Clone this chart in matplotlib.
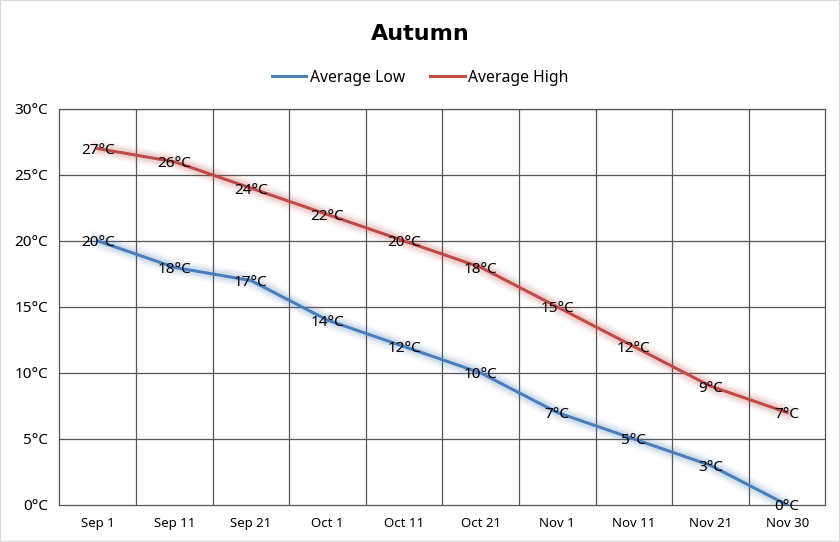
import matplotlib
matplotlib.use('Agg')
import matplotlib.pyplot as plt
import matplotlib.patheffects as pe
from matplotlib.lines import Line2D
from matplotlib.ticker import FuncFormatter, MultipleLocator

plt.rcParams['font.family'] = ['Noto Sans', 'DejaVu Sans']

dates = ["Sep 1", "Sep 11", "Sep 21", "Oct 1", "Oct 11", "Oct 21",
         "Nov 1", "Nov 11", "Nov 21", "Nov 30"]
avg_low = [20, 18, 17, 14, 12, 10, 7, 5, 3, 0]
avg_high = [27, 26, 24, 22, 20, 18, 15, 12, 9, 7]

BLUE = '#4a7ebb'
RED = '#be4b48'


def glow(color):
    return [pe.Stroke(linewidth=12, foreground=color, alpha=0.06),
            pe.Stroke(linewidth=9, foreground=color, alpha=0.08),
            pe.Stroke(linewidth=6, foreground=color, alpha=0.12),
            pe.Normal()]


fig = plt.figure(figsize=(8.4, 5.42), dpi=100)
ax = fig.add_axes([0.0708, 0.0683, 0.9119, 0.7307])

x = list(range(len(dates)))
ax.plot(x, avg_low, color=BLUE, linewidth=2.2,
        path_effects=glow(BLUE), zorder=3)
ax.plot(x, avg_high, color=RED, linewidth=2.2,
        path_effects=glow(RED), zorder=3)

for xi, v in zip(x, avg_low):
    ax.text(xi, v - 0.15, f"{v}°C", ha='center', va='center', fontsize=11, zorder=4)
for xi, v in zip(x, avg_high):
    ax.text(xi, v - 0.15, f"{v}°C", ha='center', va='center', fontsize=11, zorder=4)

ax.set_xlim(-0.5, len(dates) - 0.5)
ax.set_ylim(0, 30)
ax.yaxis.set_major_locator(MultipleLocator(5))
ax.yaxis.set_major_formatter(FuncFormatter(lambda v, p: f"{v:.0f}°C"))
ax.set_xticks(x)
ax.set_xticklabels(dates, fontsize=9.5)
ax.tick_params(axis='y', labelsize=11, length=0, pad=8)
ax.tick_params(axis='x', length=0, pad=9)

# grid: horizontal at ticks, vertical at category boundaries
for yv in range(5, 31, 5):
    ax.axhline(yv, color='#555555', linewidth=0.9, zorder=1)
for xb in range(1, len(dates)):
    ax.axvline(xb - 0.5, color='#555555', linewidth=0.9, zorder=1)
for s in ax.spines.values():
    s.set_color('#555555')
    s.set_linewidth(0.9)

fig.text(0.5, 0.938, "Autumn", ha='center', va='center', fontsize=16,
         fontweight='bold', family='DejaVu Sans')

handles = [Line2D([], [], color=BLUE, linewidth=2.2),
           Line2D([], [], color=RED, linewidth=2.2)]
fig.legend(handles, ['Average Low', 'Average High'], loc='center',
           bbox_to_anchor=(0.5, 0.857), ncol=2, frameon=False,
           fontsize=11.3, handlelength=2.2, handletextpad=0.2, columnspacing=1.6)

fig.patches.append(plt.Rectangle((0, 0), 1, 1, transform=fig.transFigure,
                                 fill=False, edgecolor='#d9d9d9', linewidth=1.5))

fig.savefig("out.png", dpi=100)
